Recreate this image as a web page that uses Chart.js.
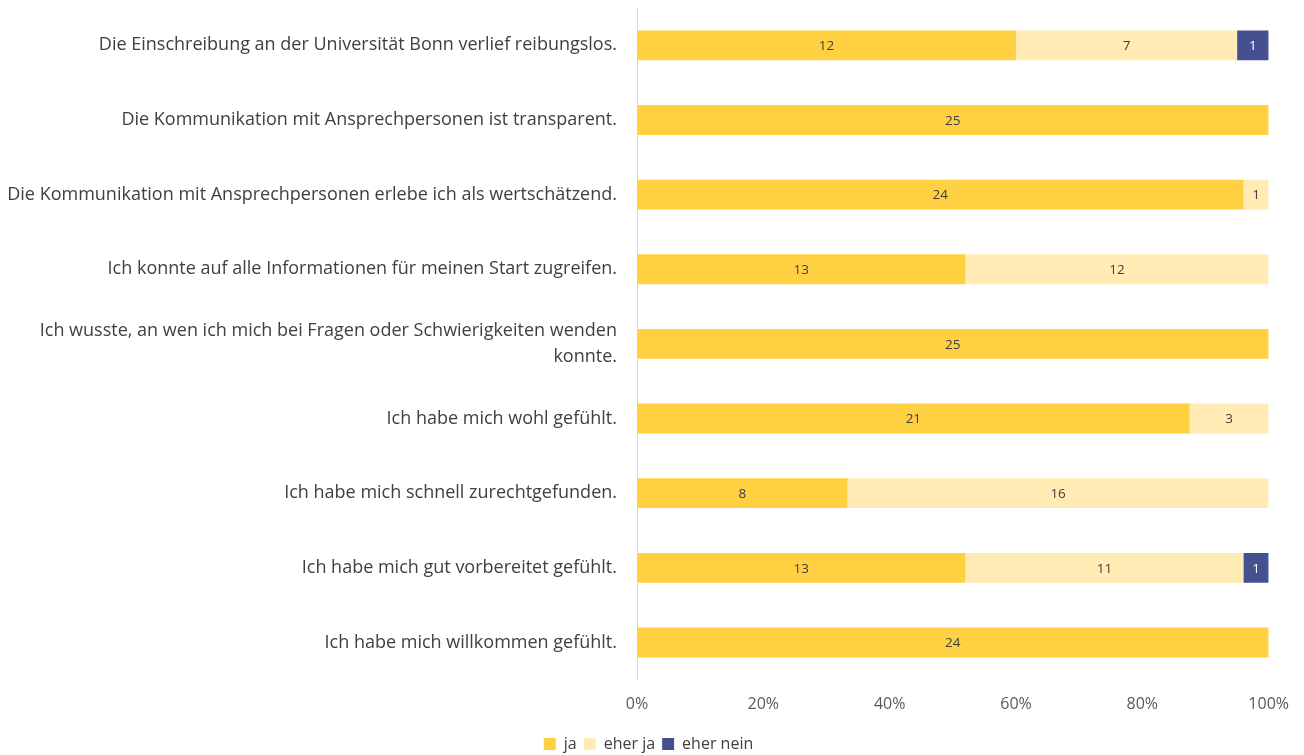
<!DOCTYPE html>
<html>
<head>
<meta charset="utf-8">
<script src="https://cdn.jsdelivr.net/npm/chart.js@4.4.1/dist/chart.umd.min.js"></script>
<style>
  html, body { margin: 0; padding: 0; background: #ffffff; }
  #wrap { width: 1304px; height: 755px; }
</style>
</head>
<body>
<div id="wrap"><canvas id="c" width="1304" height="755"></canvas></div>
<script>
// Survey statements (top to bottom)
const categories = [
  "Die Einschreibung an der Universität Bonn verlief reibungslos.",
  "Die Kommunikation mit Ansprechpersonen ist transparent.",
  "Die Kommunikation mit Ansprechpersonen erlebe ich als wertschätzend.",
  "Ich konnte auf alle Informationen für meinen Start zugreifen.",
  ["Ich wusste, an wen ich mich bei Fragen oder Schwierigkeiten wenden", "konnte."],
  "Ich habe mich wohl gefühlt.",
  "Ich habe mich schnell zurechtgefunden.",
  "Ich habe mich gut vorbereitet gefühlt.",
  "Ich habe mich willkommen gefühlt."
];

// Answer counts per statement
const ja       = [12, 25, 24, 13, 25, 21, 8, 13, 24];
const eherJa   = [7, 0, 1, 12, 0, 3, 16, 11, 0];
const eherNein = [1, 0, 0, 0, 0, 0, 0, 1, 0];

const seriesNames = ["ja", "eher ja", "eher nein"];
const xTicks = [0, 20, 40, 60, 80, 100];

const totals = categories.map((_, i) => ja[i] + eherJa[i] + eherNein[i]);
const toPct = arr => arr.map((v, i) => v / totals[i] * 100);

const FONT = "'Open Sans', sans-serif";

// Writes the count in the middle of each segment
const segmentLabels = {
  id: 'segmentLabels',
  afterDatasetsDraw(chart) {
    const ctx = chart.ctx;
    ctx.save();
    ctx.font = "13.5px " + FONT;
    ctx.textAlign = 'center';
    ctx.textBaseline = 'middle';
    chart.data.datasets.forEach((ds, di) => {
      const meta = chart.getDatasetMeta(di);
      meta.data.forEach((bar, i) => {
        const count = ds.counts[i];
        if (!count) return;
        const x = (bar.x + bar.base) / 2;
        ctx.fillStyle = ds.labelColor;
        ctx.fillText(String(count), x, bar.y + 1);
      });
    });
    ctx.restore();
  }
};

new Chart(document.getElementById('c'), {
  type: 'bar',
  data: {
    labels: categories,
    datasets: [
      { label: seriesNames[0], data: toPct(ja), counts: ja, backgroundColor: '#FFD042', labelColor: '#404040' },
      { label: seriesNames[1], data: toPct(eherJa), counts: eherJa, backgroundColor: '#FFEBB3', labelColor: '#404040' },
      { label: seriesNames[2], data: toPct(eherNein), counts: eherNein, backgroundColor: '#44508F', labelColor: '#ffffff' }
    ]
  },
  options: {
    indexAxis: 'y',
    responsive: false,
    animation: false,
    layout: { padding: { left: 2, right: 9, top: 8, bottom: -7 } },
    datasets: { bar: { barPercentage: 0.4, categoryPercentage: 1.0 } },
    scales: {
      x: {
        stacked: true,
        min: 0,
        max: 100,
        afterBuildTicks: scale => { scale.ticks = xTicks.map(v => ({ value: v })); },
        grid: { display: false, drawTicks: false },
        border: { display: false },
        ticks: {
          padding: 15,
          color: '#595959',
          font: { family: FONT, size: 16 },
          callback: v => v + '%'
        }
      },
      y: {
        stacked: true,
        grid: { display: false, drawTicks: false },
        border: { display: true, color: '#D9D9D9', width: 1 },
        afterFit: scale => {
          scale.width = 635;
          scale.paddingTop = 0;
          scale.paddingBottom = 0;
        },
        ticks: {
          padding: 20,
          color: '#404040',
          font: { family: FONT, size: 18, lineHeight: 1.4 }
        }
      }
    },
    plugins: {
      legend: {
        position: 'bottom',
        labels: {
          boxWidth: 12,
          boxHeight: 12,
          padding: 7,
          color: '#404040',
          font: { family: FONT, size: 16 }
        }
      },
      tooltip: { enabled: false }
    }
  },
  plugins: [segmentLabels]
});
</script>
</body>
</html>
